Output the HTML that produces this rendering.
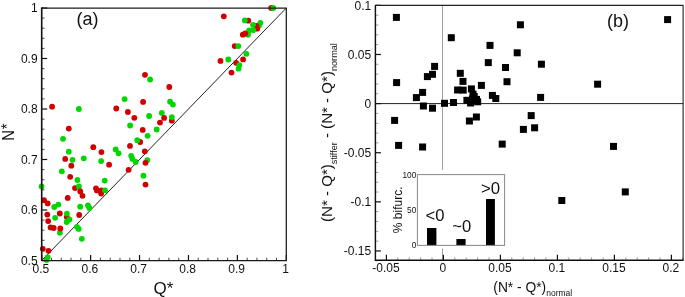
<!DOCTYPE html>
<html><head><meta charset="utf-8"><title>Figure</title>
<style>html,body{margin:0;padding:0;background:#fff;}svg{display:block;}text{font-family:"Liberation Sans",Arial,sans-serif;fill:#111;}</style>
</head><body>
<svg width="685" height="297" viewBox="0 0 685 297">
<rect x="0" y="0" width="685" height="297" fill="#ffffff"/>
<g id="plot-a">
<line x1="41.7" y1="260.5" x2="286.3" y2="8.0" stroke="#222" stroke-width="1"/>
<line x1="41.7" y1="260.50" x2="47.2" y2="260.50" stroke="#111" stroke-width="1.2"/>
<line x1="41.70" y1="260.5" x2="41.70" y2="255.0" stroke="#111" stroke-width="1.2"/>
<line x1="41.7" y1="250.40" x2="44.5" y2="250.40" stroke="#333" stroke-width="0.9"/>
<line x1="51.48" y1="260.5" x2="51.48" y2="257.7" stroke="#333" stroke-width="0.9"/>
<line x1="41.7" y1="240.30" x2="44.5" y2="240.30" stroke="#333" stroke-width="0.9"/>
<line x1="61.27" y1="260.5" x2="61.27" y2="257.7" stroke="#333" stroke-width="0.9"/>
<line x1="41.7" y1="230.20" x2="44.5" y2="230.20" stroke="#333" stroke-width="0.9"/>
<line x1="71.05" y1="260.5" x2="71.05" y2="257.7" stroke="#333" stroke-width="0.9"/>
<line x1="41.7" y1="220.10" x2="44.5" y2="220.10" stroke="#333" stroke-width="0.9"/>
<line x1="80.84" y1="260.5" x2="80.84" y2="257.7" stroke="#333" stroke-width="0.9"/>
<line x1="41.7" y1="210.00" x2="47.2" y2="210.00" stroke="#111" stroke-width="1.2"/>
<line x1="90.62" y1="260.5" x2="90.62" y2="255.0" stroke="#111" stroke-width="1.2"/>
<line x1="41.7" y1="199.90" x2="44.5" y2="199.90" stroke="#333" stroke-width="0.9"/>
<line x1="100.40" y1="260.5" x2="100.40" y2="257.7" stroke="#333" stroke-width="0.9"/>
<line x1="41.7" y1="189.80" x2="44.5" y2="189.80" stroke="#333" stroke-width="0.9"/>
<line x1="110.19" y1="260.5" x2="110.19" y2="257.7" stroke="#333" stroke-width="0.9"/>
<line x1="41.7" y1="179.70" x2="44.5" y2="179.70" stroke="#333" stroke-width="0.9"/>
<line x1="119.97" y1="260.5" x2="119.97" y2="257.7" stroke="#333" stroke-width="0.9"/>
<line x1="41.7" y1="169.60" x2="44.5" y2="169.60" stroke="#333" stroke-width="0.9"/>
<line x1="129.76" y1="260.5" x2="129.76" y2="257.7" stroke="#333" stroke-width="0.9"/>
<line x1="41.7" y1="159.50" x2="47.2" y2="159.50" stroke="#111" stroke-width="1.2"/>
<line x1="139.54" y1="260.5" x2="139.54" y2="255.0" stroke="#111" stroke-width="1.2"/>
<line x1="41.7" y1="149.40" x2="44.5" y2="149.40" stroke="#333" stroke-width="0.9"/>
<line x1="149.32" y1="260.5" x2="149.32" y2="257.7" stroke="#333" stroke-width="0.9"/>
<line x1="41.7" y1="139.30" x2="44.5" y2="139.30" stroke="#333" stroke-width="0.9"/>
<line x1="159.11" y1="260.5" x2="159.11" y2="257.7" stroke="#333" stroke-width="0.9"/>
<line x1="41.7" y1="129.20" x2="44.5" y2="129.20" stroke="#333" stroke-width="0.9"/>
<line x1="168.89" y1="260.5" x2="168.89" y2="257.7" stroke="#333" stroke-width="0.9"/>
<line x1="41.7" y1="119.10" x2="44.5" y2="119.10" stroke="#333" stroke-width="0.9"/>
<line x1="178.68" y1="260.5" x2="178.68" y2="257.7" stroke="#333" stroke-width="0.9"/>
<line x1="41.7" y1="109.00" x2="47.2" y2="109.00" stroke="#111" stroke-width="1.2"/>
<line x1="188.46" y1="260.5" x2="188.46" y2="255.0" stroke="#111" stroke-width="1.2"/>
<line x1="41.7" y1="98.90" x2="44.5" y2="98.90" stroke="#333" stroke-width="0.9"/>
<line x1="198.24" y1="260.5" x2="198.24" y2="257.7" stroke="#333" stroke-width="0.9"/>
<line x1="41.7" y1="88.80" x2="44.5" y2="88.80" stroke="#333" stroke-width="0.9"/>
<line x1="208.03" y1="260.5" x2="208.03" y2="257.7" stroke="#333" stroke-width="0.9"/>
<line x1="41.7" y1="78.70" x2="44.5" y2="78.70" stroke="#333" stroke-width="0.9"/>
<line x1="217.81" y1="260.5" x2="217.81" y2="257.7" stroke="#333" stroke-width="0.9"/>
<line x1="41.7" y1="68.60" x2="44.5" y2="68.60" stroke="#333" stroke-width="0.9"/>
<line x1="227.60" y1="260.5" x2="227.60" y2="257.7" stroke="#333" stroke-width="0.9"/>
<line x1="41.7" y1="58.50" x2="47.2" y2="58.50" stroke="#111" stroke-width="1.2"/>
<line x1="237.38" y1="260.5" x2="237.38" y2="255.0" stroke="#111" stroke-width="1.2"/>
<line x1="41.7" y1="48.40" x2="44.5" y2="48.40" stroke="#333" stroke-width="0.9"/>
<line x1="247.16" y1="260.5" x2="247.16" y2="257.7" stroke="#333" stroke-width="0.9"/>
<line x1="41.7" y1="38.30" x2="44.5" y2="38.30" stroke="#333" stroke-width="0.9"/>
<line x1="256.95" y1="260.5" x2="256.95" y2="257.7" stroke="#333" stroke-width="0.9"/>
<line x1="41.7" y1="28.20" x2="44.5" y2="28.20" stroke="#333" stroke-width="0.9"/>
<line x1="266.73" y1="260.5" x2="266.73" y2="257.7" stroke="#333" stroke-width="0.9"/>
<line x1="41.7" y1="18.10" x2="44.5" y2="18.10" stroke="#333" stroke-width="0.9"/>
<line x1="276.52" y1="260.5" x2="276.52" y2="257.7" stroke="#333" stroke-width="0.9"/>
<line x1="41.7" y1="8.00" x2="47.2" y2="8.00" stroke="#111" stroke-width="1.2"/>
<line x1="286.30" y1="260.5" x2="286.30" y2="255.0" stroke="#111" stroke-width="1.2"/>
<circle cx="271.2" cy="8.0" r="2.9" fill="#d00000"/>
<circle cx="273.2" cy="8.0" r="2.9" fill="#00d600"/>
<circle cx="223.8" cy="16.3" r="2.9" fill="#d00000"/>
<circle cx="248.3" cy="20.7" r="2.9" fill="#d00000"/>
<circle cx="244.85" cy="20.45" r="2.9" fill="#00d600"/>
<circle cx="260.4" cy="22.8" r="2.9" fill="#00d600"/>
<circle cx="259.0" cy="25.4" r="2.9" fill="#00d600"/>
<circle cx="256.4" cy="25.9" r="2.9" fill="#d00000"/>
<circle cx="253.1" cy="24.9" r="2.9" fill="#00d600"/>
<circle cx="257.2" cy="28.7" r="2.9" fill="#d00000"/>
<circle cx="253.3" cy="30.1" r="2.9" fill="#00d600"/>
<circle cx="249.1" cy="30.5" r="2.9" fill="#00d600"/>
<circle cx="248.0" cy="34.8" r="2.9" fill="#00d600"/>
<circle cx="245.2" cy="33.5" r="2.9" fill="#d00000"/>
<circle cx="242.8" cy="34.7" r="2.9" fill="#d00000"/>
<circle cx="234.7" cy="46.1" r="2.9" fill="#d00000"/>
<circle cx="238.3" cy="46.1" r="2.9" fill="#00d600"/>
<circle cx="246.4" cy="53.8" r="2.9" fill="#00d600"/>
<circle cx="243.1" cy="59.4" r="2.9" fill="#d00000"/>
<circle cx="228.3" cy="59.5" r="2.9" fill="#00d600"/>
<circle cx="220.5" cy="60.9" r="2.9" fill="#d00000"/>
<circle cx="236.1" cy="62.8" r="2.9" fill="#d00000"/>
<circle cx="239.3" cy="65.1" r="2.9" fill="#00d600"/>
<circle cx="238.6" cy="68.7" r="2.9" fill="#00d600"/>
<circle cx="231.5" cy="72.6" r="2.9" fill="#d00000"/>
<circle cx="169.3" cy="87.0" r="2.9" fill="#d00000"/>
<circle cx="170.1" cy="101.7" r="2.9" fill="#00d600"/>
<circle cx="172.9" cy="104.6" r="2.9" fill="#00d600"/>
<circle cx="161.8" cy="112.9" r="2.9" fill="#00d600"/>
<circle cx="164.1" cy="117.9" r="2.9" fill="#d00000"/>
<circle cx="171.8" cy="120.7" r="2.9" fill="#d00000"/>
<circle cx="171.8" cy="117.1" r="2.9" fill="#00d600"/>
<circle cx="160.0" cy="122.6" r="2.9" fill="#d00000"/>
<circle cx="145.0" cy="74.8" r="2.9" fill="#d00000"/>
<circle cx="150.1" cy="79.5" r="2.9" fill="#00d600"/>
<circle cx="124.6" cy="99.1" r="2.9" fill="#00d600"/>
<circle cx="143.1" cy="101.9" r="2.9" fill="#d00000"/>
<circle cx="52.1" cy="106.7" r="2.9" fill="#d00000"/>
<circle cx="78.9" cy="109.0" r="2.9" fill="#00d600"/>
<circle cx="116.3" cy="108.5" r="2.9" fill="#d00000"/>
<circle cx="127.9" cy="112.0" r="2.9" fill="#d00000"/>
<circle cx="149.1" cy="116.0" r="2.9" fill="#00d600"/>
<circle cx="134.3" cy="117.8" r="2.9" fill="#d00000"/>
<circle cx="130.1" cy="125.5" r="2.9" fill="#00d600"/>
<circle cx="68.8" cy="128.6" r="2.9" fill="#d00000"/>
<circle cx="142.7" cy="129.9" r="2.9" fill="#d00000"/>
<circle cx="156.7" cy="129.5" r="2.9" fill="#00d600"/>
<circle cx="147.6" cy="135.8" r="2.9" fill="#00d600"/>
<circle cx="63.0" cy="138.8" r="2.9" fill="#00d600"/>
<circle cx="140.2" cy="142.0" r="2.9" fill="#d00000"/>
<circle cx="137.3" cy="140.2" r="2.9" fill="#00d600"/>
<circle cx="130.0" cy="145.9" r="2.9" fill="#d00000"/>
<circle cx="93.3" cy="147.2" r="2.9" fill="#d00000"/>
<circle cx="115.7" cy="149.5" r="2.9" fill="#00d600"/>
<circle cx="118.6" cy="153.3" r="2.9" fill="#00d600"/>
<circle cx="101.4" cy="152.1" r="2.9" fill="#d00000"/>
<circle cx="144.8" cy="151.3" r="2.9" fill="#d00000"/>
<circle cx="68.8" cy="151.7" r="2.9" fill="#00d600"/>
<circle cx="131.2" cy="155.8" r="2.9" fill="#00d600"/>
<circle cx="132.4" cy="158.9" r="2.9" fill="#00d600"/>
<circle cx="135.7" cy="162.0" r="2.9" fill="#00d600"/>
<circle cx="65.2" cy="158.9" r="2.9" fill="#d00000"/>
<circle cx="72.5" cy="159.8" r="2.9" fill="#00d600"/>
<circle cx="83.8" cy="158.3" r="2.9" fill="#00d600"/>
<circle cx="101.1" cy="161.1" r="2.9" fill="#00d600"/>
<circle cx="147.3" cy="160.1" r="2.9" fill="#00d600"/>
<circle cx="145.5" cy="162.8" r="2.9" fill="#d00000"/>
<circle cx="109.1" cy="164.7" r="2.9" fill="#d00000"/>
<circle cx="71.3" cy="165.7" r="2.9" fill="#d00000"/>
<circle cx="128.6" cy="169.8" r="2.9" fill="#d00000"/>
<circle cx="61.8" cy="171.3" r="2.9" fill="#00d600"/>
<circle cx="143.4" cy="175.7" r="2.9" fill="#00d600"/>
<circle cx="70.2" cy="176.8" r="2.9" fill="#d00000"/>
<circle cx="77.4" cy="180.0" r="2.9" fill="#00d600"/>
<circle cx="104.7" cy="180.6" r="2.9" fill="#00d600"/>
<circle cx="145.5" cy="184.6" r="2.9" fill="#d00000"/>
<circle cx="41.6" cy="186.4" r="2.9" fill="#00d600"/>
<circle cx="75.0" cy="188.1" r="2.9" fill="#d00000"/>
<circle cx="78.9" cy="186.5" r="2.9" fill="#00d600"/>
<circle cx="96.0" cy="188.3" r="2.9" fill="#d00000"/>
<circle cx="96.9" cy="190.4" r="2.9" fill="#d00000"/>
<circle cx="101.4" cy="190.4" r="2.9" fill="#d00000"/>
<circle cx="101.1" cy="193.5" r="2.9" fill="#d00000"/>
<circle cx="105.0" cy="190.3" r="2.9" fill="#00d600"/>
<circle cx="80.3" cy="191.4" r="2.9" fill="#d00000"/>
<circle cx="82.5" cy="195.8" r="2.9" fill="#d00000"/>
<circle cx="67.7" cy="197.9" r="2.9" fill="#d00000"/>
<circle cx="44.0" cy="200.2" r="2.9" fill="#d00000"/>
<circle cx="47.7" cy="203.4" r="2.9" fill="#d00000"/>
<circle cx="58.3" cy="204.6" r="2.9" fill="#00d600"/>
<circle cx="54.2" cy="207.0" r="2.9" fill="#00d600"/>
<circle cx="80.2" cy="206.7" r="2.9" fill="#00d600"/>
<circle cx="88.0" cy="205.5" r="2.9" fill="#00d600"/>
<circle cx="89.4" cy="208.0" r="2.9" fill="#00d600"/>
<circle cx="47.3" cy="214.6" r="2.9" fill="#d00000"/>
<circle cx="59.8" cy="213.5" r="2.9" fill="#d00000"/>
<circle cx="66.8" cy="217.1" r="2.9" fill="#d00000"/>
<circle cx="66.9" cy="213.6" r="2.9" fill="#00d600"/>
<circle cx="79.2" cy="215.0" r="2.9" fill="#d00000"/>
<circle cx="55.1" cy="217.8" r="2.9" fill="#00d600"/>
<circle cx="69.4" cy="219.5" r="2.9" fill="#00d600"/>
<circle cx="66.7" cy="222.0" r="2.9" fill="#00d600"/>
<circle cx="48.2" cy="221.1" r="2.9" fill="#d00000"/>
<circle cx="50.6" cy="227.4" r="2.9" fill="#d00000"/>
<circle cx="53.7" cy="228.0" r="2.9" fill="#d00000"/>
<circle cx="59.9" cy="232.7" r="2.9" fill="#00d600"/>
<circle cx="60.3" cy="228.4" r="2.9" fill="#d00000"/>
<circle cx="77.0" cy="226.8" r="2.9" fill="#00d600"/>
<circle cx="78.7" cy="228.9" r="2.9" fill="#00d600"/>
<circle cx="81.8" cy="238.8" r="2.9" fill="#00d600"/>
<circle cx="42.8" cy="248.8" r="2.9" fill="#d00000"/>
<circle cx="48.5" cy="250.8" r="2.9" fill="#d00000"/>
<circle cx="47.7" cy="257.1" r="2.9" fill="#00d600"/>
<circle cx="46.6" cy="259.9" r="2.9" fill="#00d600"/>
<path d="M41.7 8.0 H286.3 V260.5 H41.7" fill="none" stroke="#1a1a1a" stroke-width="1.25"/>
<path d="M41.7 7.4 V261.1" fill="none" stroke="#111" stroke-width="1.6"/>
<text x="37.6" y="264.8" font-size="12" text-anchor="end">0.5</text>
<text x="40.9" y="272.6" font-size="12" text-anchor="middle">0.5</text>
<text x="37.6" y="214.3" font-size="12" text-anchor="end">0.6</text>
<text x="89.8" y="272.6" font-size="12" text-anchor="middle">0.6</text>
<text x="37.6" y="163.8" font-size="12" text-anchor="end">0.7</text>
<text x="138.7" y="272.6" font-size="12" text-anchor="middle">0.7</text>
<text x="37.6" y="113.3" font-size="12" text-anchor="end">0.8</text>
<text x="187.7" y="272.6" font-size="12" text-anchor="middle">0.8</text>
<text x="37.6" y="62.8" font-size="12" text-anchor="end">0.9</text>
<text x="236.6" y="272.6" font-size="12" text-anchor="middle">0.9</text>
<text x="37.6" y="12.3" font-size="12" text-anchor="end">1</text>
<text x="285.5" y="272.6" font-size="12" text-anchor="middle">1</text>
<text x="87.4" y="25.1" font-size="18" text-anchor="middle">(a)</text>
<text x="153.6" y="294.3" font-size="17">Q*</text>
<text transform="translate(14.1,132.2) rotate(-90) scale(0.86,1)" font-size="17.2" text-anchor="middle">N<tspan dy="-0.8" dx="0.9">*</tspan></text>
</g>
<g id="plot-b">
<line x1="442.5" y1="5.4" x2="442.5" y2="260.3" stroke="#a0a0a0" stroke-width="1"/>
<line x1="375.4" y1="103.6" x2="683.1" y2="103.6" stroke="#222" stroke-width="1"/>
<line x1="375.4" y1="260.78" x2="378.4" y2="260.78" stroke="#888" stroke-width="0.8"/>
<line x1="375.4" y1="250.96" x2="380.9" y2="250.96" stroke="#111" stroke-width="1.2"/>
<line x1="375.4" y1="241.14" x2="378.4" y2="241.14" stroke="#888" stroke-width="0.8"/>
<line x1="375.4" y1="231.31" x2="378.4" y2="231.31" stroke="#888" stroke-width="0.8"/>
<line x1="375.4" y1="221.49" x2="378.4" y2="221.49" stroke="#888" stroke-width="0.8"/>
<line x1="375.4" y1="211.66" x2="378.4" y2="211.66" stroke="#888" stroke-width="0.8"/>
<line x1="375.4" y1="201.84" x2="380.9" y2="201.84" stroke="#111" stroke-width="1.2"/>
<line x1="375.4" y1="192.02" x2="378.4" y2="192.02" stroke="#888" stroke-width="0.8"/>
<line x1="375.4" y1="182.19" x2="378.4" y2="182.19" stroke="#888" stroke-width="0.8"/>
<line x1="375.4" y1="172.37" x2="378.4" y2="172.37" stroke="#888" stroke-width="0.8"/>
<line x1="375.4" y1="162.54" x2="378.4" y2="162.54" stroke="#888" stroke-width="0.8"/>
<line x1="375.4" y1="152.72" x2="380.9" y2="152.72" stroke="#111" stroke-width="1.2"/>
<line x1="375.4" y1="142.90" x2="378.4" y2="142.90" stroke="#888" stroke-width="0.8"/>
<line x1="375.4" y1="133.07" x2="378.4" y2="133.07" stroke="#888" stroke-width="0.8"/>
<line x1="375.4" y1="123.25" x2="378.4" y2="123.25" stroke="#888" stroke-width="0.8"/>
<line x1="375.4" y1="113.42" x2="378.4" y2="113.42" stroke="#888" stroke-width="0.8"/>
<line x1="375.4" y1="103.60" x2="380.9" y2="103.60" stroke="#111" stroke-width="1.2"/>
<line x1="375.4" y1="93.78" x2="378.4" y2="93.78" stroke="#888" stroke-width="0.8"/>
<line x1="375.4" y1="83.95" x2="378.4" y2="83.95" stroke="#888" stroke-width="0.8"/>
<line x1="375.4" y1="74.13" x2="378.4" y2="74.13" stroke="#888" stroke-width="0.8"/>
<line x1="375.4" y1="64.30" x2="378.4" y2="64.30" stroke="#888" stroke-width="0.8"/>
<line x1="375.4" y1="54.48" x2="380.9" y2="54.48" stroke="#111" stroke-width="1.2"/>
<line x1="375.4" y1="44.66" x2="378.4" y2="44.66" stroke="#888" stroke-width="0.8"/>
<line x1="375.4" y1="34.83" x2="378.4" y2="34.83" stroke="#888" stroke-width="0.8"/>
<line x1="375.4" y1="25.01" x2="378.4" y2="25.01" stroke="#888" stroke-width="0.8"/>
<line x1="375.4" y1="15.18" x2="378.4" y2="15.18" stroke="#888" stroke-width="0.8"/>
<line x1="375.4" y1="5.36" x2="380.9" y2="5.36" stroke="#111" stroke-width="1.2"/>
<line x1="386.40" y1="260.3" x2="386.40" y2="254.8" stroke="#111" stroke-width="1.2"/>
<line x1="397.80" y1="260.3" x2="397.80" y2="257.3" stroke="#888" stroke-width="0.8"/>
<line x1="409.20" y1="260.3" x2="409.20" y2="257.3" stroke="#888" stroke-width="0.8"/>
<line x1="420.60" y1="260.3" x2="420.60" y2="257.3" stroke="#888" stroke-width="0.8"/>
<line x1="432.00" y1="260.3" x2="432.00" y2="257.3" stroke="#888" stroke-width="0.8"/>
<line x1="443.40" y1="260.3" x2="443.40" y2="254.8" stroke="#111" stroke-width="1.2"/>
<line x1="454.80" y1="260.3" x2="454.80" y2="257.3" stroke="#888" stroke-width="0.8"/>
<line x1="466.20" y1="260.3" x2="466.20" y2="257.3" stroke="#888" stroke-width="0.8"/>
<line x1="477.60" y1="260.3" x2="477.60" y2="257.3" stroke="#888" stroke-width="0.8"/>
<line x1="489.00" y1="260.3" x2="489.00" y2="257.3" stroke="#888" stroke-width="0.8"/>
<line x1="500.40" y1="260.3" x2="500.40" y2="254.8" stroke="#111" stroke-width="1.2"/>
<line x1="511.80" y1="260.3" x2="511.80" y2="257.3" stroke="#888" stroke-width="0.8"/>
<line x1="523.20" y1="260.3" x2="523.20" y2="257.3" stroke="#888" stroke-width="0.8"/>
<line x1="534.60" y1="260.3" x2="534.60" y2="257.3" stroke="#888" stroke-width="0.8"/>
<line x1="546.00" y1="260.3" x2="546.00" y2="257.3" stroke="#888" stroke-width="0.8"/>
<line x1="557.40" y1="260.3" x2="557.40" y2="254.8" stroke="#111" stroke-width="1.2"/>
<line x1="568.80" y1="260.3" x2="568.80" y2="257.3" stroke="#888" stroke-width="0.8"/>
<line x1="580.20" y1="260.3" x2="580.20" y2="257.3" stroke="#888" stroke-width="0.8"/>
<line x1="591.60" y1="260.3" x2="591.60" y2="257.3" stroke="#888" stroke-width="0.8"/>
<line x1="603.00" y1="260.3" x2="603.00" y2="257.3" stroke="#888" stroke-width="0.8"/>
<line x1="614.40" y1="260.3" x2="614.40" y2="254.8" stroke="#111" stroke-width="1.2"/>
<line x1="625.80" y1="260.3" x2="625.80" y2="257.3" stroke="#888" stroke-width="0.8"/>
<line x1="637.20" y1="260.3" x2="637.20" y2="257.3" stroke="#888" stroke-width="0.8"/>
<line x1="648.60" y1="260.3" x2="648.60" y2="257.3" stroke="#888" stroke-width="0.8"/>
<line x1="660.00" y1="260.3" x2="660.00" y2="257.3" stroke="#888" stroke-width="0.8"/>
<line x1="671.40" y1="260.3" x2="671.40" y2="254.8" stroke="#111" stroke-width="1.2"/>
<line x1="682.80" y1="260.3" x2="682.80" y2="257.3" stroke="#888" stroke-width="0.8"/>
<rect x="392.9" y="13.9" width="7" height="7" fill="#000"/>
<rect x="447.8" y="34.2" width="7" height="7" fill="#000"/>
<rect x="486.5" y="41.9" width="7" height="7" fill="#000"/>
<rect x="516.9" y="21.3" width="7" height="7" fill="#000"/>
<rect x="513.7" y="49.3" width="7" height="7" fill="#000"/>
<rect x="664.1" y="16.1" width="7" height="7" fill="#000"/>
<rect x="484.8" y="59.1" width="7" height="7" fill="#000"/>
<rect x="502.0" y="64.0" width="7" height="7" fill="#000"/>
<rect x="537.9" y="60.7" width="7" height="7" fill="#000"/>
<rect x="431.1" y="62.9" width="7" height="7" fill="#000"/>
<rect x="429.0" y="70.8" width="7" height="7" fill="#000"/>
<rect x="423.9" y="73.1" width="7" height="7" fill="#000"/>
<rect x="456.8" y="69.8" width="7" height="7" fill="#000"/>
<rect x="393.1" y="79.1" width="7" height="7" fill="#000"/>
<rect x="459.5" y="77.9" width="7" height="7" fill="#000"/>
<rect x="503.5" y="78.2" width="7" height="7" fill="#000"/>
<rect x="477.9" y="81.9" width="7" height="7" fill="#000"/>
<rect x="594.1" y="80.7" width="7" height="7" fill="#000"/>
<rect x="467.9" y="85.4" width="7" height="7" fill="#000"/>
<rect x="454.1" y="86.5" width="7" height="7" fill="#000"/>
<rect x="459.7" y="86.6" width="7" height="7" fill="#000"/>
<rect x="419.1" y="88.9" width="7" height="7" fill="#000"/>
<rect x="412.9" y="94.1" width="7" height="7" fill="#000"/>
<rect x="488.9" y="91.9" width="7" height="7" fill="#000"/>
<rect x="492.3" y="95.0" width="7" height="7" fill="#000"/>
<rect x="537.1" y="93.9" width="7" height="7" fill="#000"/>
<rect x="469.5" y="90.6" width="7" height="7" fill="#000"/>
<rect x="470.7" y="93.0" width="7" height="7" fill="#000"/>
<rect x="463.4" y="96.8" width="7" height="7" fill="#000"/>
<rect x="467.1" y="99.5" width="7" height="7" fill="#000"/>
<rect x="473.0" y="95.9" width="7" height="7" fill="#000"/>
<rect x="474.2" y="98.3" width="7" height="7" fill="#000"/>
<rect x="469.0" y="95.5" width="7" height="7" fill="#000"/>
<rect x="441.0" y="99.8" width="7" height="7" fill="#000"/>
<rect x="450.0" y="99.0" width="7" height="7" fill="#000"/>
<rect x="419.9" y="102.5" width="7" height="7" fill="#000"/>
<rect x="429.0" y="104.7" width="7" height="7" fill="#000"/>
<rect x="391.1" y="116.9" width="7" height="7" fill="#000"/>
<rect x="472.9" y="113.5" width="7" height="7" fill="#000"/>
<rect x="465.9" y="117.5" width="7" height="7" fill="#000"/>
<rect x="527.7" y="112.1" width="7" height="7" fill="#000"/>
<rect x="531.1" y="124.3" width="7" height="7" fill="#000"/>
<rect x="519.9" y="125.9" width="7" height="7" fill="#000"/>
<rect x="395.1" y="141.9" width="7" height="7" fill="#000"/>
<rect x="419.1" y="143.5" width="7" height="7" fill="#000"/>
<rect x="498.7" y="140.6" width="7" height="7" fill="#000"/>
<rect x="610.0" y="142.9" width="7" height="7" fill="#000"/>
<rect x="558.3" y="197.0" width="7" height="7" fill="#000"/>
<rect x="621.8" y="188.4" width="7" height="7" fill="#000"/>
<rect x="392" y="170" width="115" height="79" fill="#fff"/>
<line x1="442.5" y1="248.5" x2="442.5" y2="255" stroke="#a0a0a0" stroke-width="1"/>
<rect x="427" y="228" width="9.4" height="17.4" fill="#000"/>
<rect x="456.4" y="239" width="9.2" height="6.4" fill="#000"/>
<rect x="486" y="199" width="8.9" height="46.4" fill="#000"/>
<rect x="417.4" y="174.6" width="87.2" height="70.8" fill="none" stroke="#888" stroke-width="1"/>
<text x="416.3" y="178.2" font-size="8.3" text-anchor="end">100</text>
<text x="416.3" y="213.4" font-size="8.3" text-anchor="end">50</text>
<text x="416.3" y="248.4" font-size="8.3" text-anchor="end">0</text>
<text x="435" y="220.7" font-size="16.6" text-anchor="middle">&lt;0</text>
<text x="461.8" y="231.7" font-size="16.6" text-anchor="middle">~0</text>
<text x="490.6" y="193.8" font-size="16.8" text-anchor="middle">&gt;0</text>
<text transform="translate(402.4,209.8) rotate(-90)" font-size="12" text-anchor="middle">% bifurc.</text>
<path d="M375.4 5.4 H683.1 V260.3" fill="none" stroke="#222" stroke-width="1.1"/>
<path d="M375.4 4.9 V260.3 H683.6" fill="none" stroke="#111" stroke-width="1.45"/>
<text x="371.2" y="9.7" font-size="12" text-anchor="end">0.1</text>
<text x="371.2" y="58.8" font-size="12" text-anchor="end">0.05</text>
<text x="371.2" y="107.9" font-size="12" text-anchor="end">0</text>
<text x="371.2" y="157.0" font-size="12" text-anchor="end">-0.05</text>
<text x="371.2" y="206.1" font-size="12" text-anchor="end">-0.1</text>
<text x="371.2" y="255.3" font-size="12" text-anchor="end">-0.15</text>
<text x="385.9" y="272.2" font-size="12" text-anchor="middle">-0.05</text>
<text x="442.9" y="272.2" font-size="12" text-anchor="middle">0</text>
<text x="499.9" y="272.2" font-size="12" text-anchor="middle">0.05</text>
<text x="556.9" y="272.2" font-size="12" text-anchor="middle">0.1</text>
<text x="613.9" y="272.2" font-size="12" text-anchor="middle">0.15</text>
<text x="670.9" y="272.2" font-size="12" text-anchor="middle">0.2</text>
<text x="618" y="27" font-size="18" text-anchor="middle">(b)</text>
<text x="493.3" y="291.9" font-size="13.8">(N* - Q*)<tspan font-size="8.5" dy="3.7">normal</tspan></text>
<text transform="translate(331.5,222) rotate(-90)" font-size="15.1">(N* - Q*)<tspan font-size="9" dy="5.6">stiffer</tspan><tspan dy="-5.6"> - (N* - Q*)</tspan><tspan font-size="9.1" dy="5.6">normal</tspan></text>
</g>
</svg>
</body></html>
